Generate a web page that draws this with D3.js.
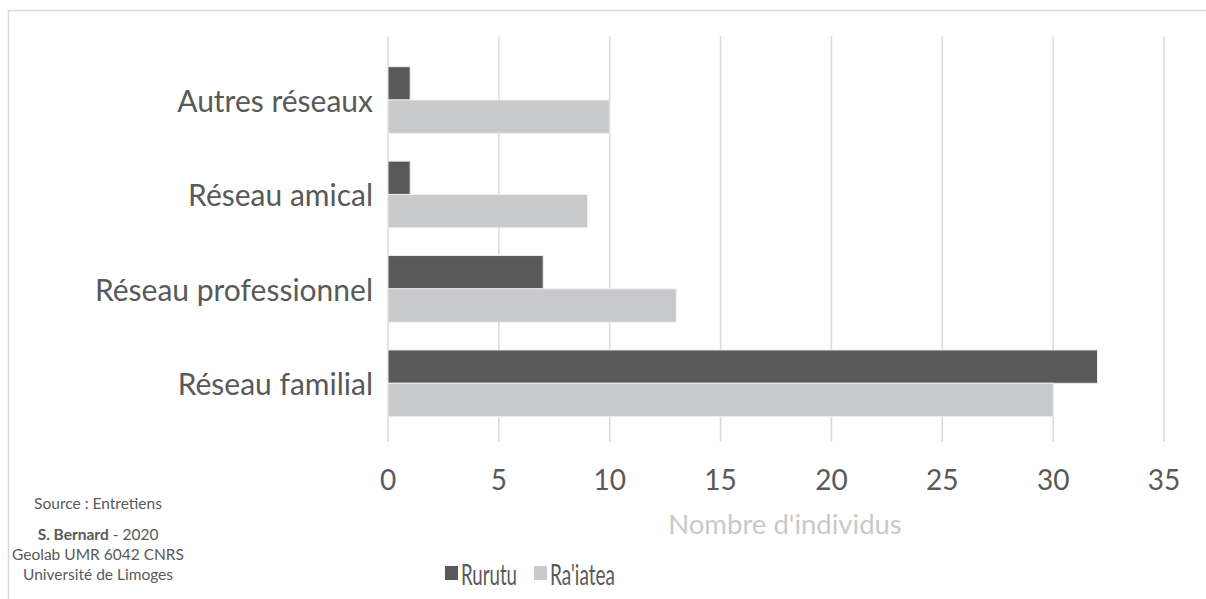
<!DOCTYPE html>
<html><head><meta charset="utf-8">
<script src="https://cdn.jsdelivr.net/npm/d3@7"></script>
<style>
html,body{margin:0;padding:0;background:#fff;}
svg{display:block;font-family:Lato, "Open Sans", sans-serif;}
</style></head>
<body>
<svg id="chart" width="1206" height="599"></svg>
<script>
const categories = ["Autres réseaux", "Réseau amical", "Réseau professionnel", "Réseau familial"];
const seriesNames = ["Rurutu", "Ra'iatea"];
const rurutu = [1, 1, 7, 32];
const raiatea = [10, 9, 13, 30];
const xTicks = [0, 5, 10, 15, 20, 25, 30, 35];
const axisTitle = "Nombre d'individus";
const colors = ["#595959", "#c8c9cb"];

const svg = d3.select("#chart");
// frame
svg.append("rect").attr("x", 8.5).attr("y", 10.5).attr("width", 1300).attr("height", 700)
  .attr("fill", "none").attr("stroke", "#d9d9d9").attr("stroke-width", 1.5);

const x = d3.scaleLinear().domain([0, 35]).range([388, 1164]);
const y = d3.scaleBand().domain(categories).range([52.8, 430.5]).paddingInner(0.294).paddingOuter(0.147);
const ySub = d3.scaleBand().domain(seriesNames).range([0, y.bandwidth()]);

// gridlines
svg.append("g").selectAll("line").data(xTicks).join("line")
  .attr("x1", d => x(d)).attr("x2", d => x(d)).attr("y1", 36.5).attr("y2", 442)
  .attr("stroke", "#d9d9d9").attr("stroke-width", 1.5);

const rows = categories.map((c, i) => ({cat: c, vals: [rurutu[i], raiatea[i]]}));
const g = svg.append("g");
rows.forEach(r => {
  r.vals.forEach((v, j) => {
    g.append("rect")
      .attr("x", x(0)).attr("y", y(r.cat) + ySub(seriesNames[j]))
      .attr("width", x(v) - x(0)).attr("height", ySub.bandwidth())
      .attr("fill", colors[j]).attr("stroke", "#eeeeee").attr("stroke-width", 1);
  });
});

// category labels
svg.append("g").selectAll("text").data(categories).join("text")
  .attr("x", 373).attr("y", d => y(d) + y.bandwidth() / 2)
  .attr("text-anchor", "end").attr("dominant-baseline", "central")
  .attr("font-size", 30).attr("fill", "#595959").text(d => d);

// x tick labels
svg.append("g").selectAll("text").data(xTicks).join("text")
  .attr("x", d => x(d)).attr("y", 479)
  .attr("text-anchor", "middle").attr("dominant-baseline", "central")
  .attr("font-size", 28).attr("fill", "#595959").text(d => d);

// axis title
svg.append("text").attr("x", 785).attr("y", 523)
  .attr("text-anchor", "middle").attr("dominant-baseline", "central")
  .attr("font-size", 27.5).attr("fill", "#c9c9c9").text(axisTitle);

// legend
const legendX = [445, 534];
const legendW = [56, 65];
seriesNames.forEach((s, j) => {
  svg.append("rect").attr("x", legendX[j]).attr("y", 566).attr("width", 13).attr("height", 14).attr("fill", colors[j]);
  svg.append("text").attr("x", legendX[j] + 16).attr("y", 574)
    .attr("dominant-baseline", "central").attr("font-size", 28).attr("fill", "#595959")
    .attr("textLength", legendW[j]).attr("lengthAdjust", "spacingAndGlyphs").text(s);
});

// footer
const foot = svg.append("g").attr("font-size", 15.5).attr("fill", "#595959").attr("text-anchor", "middle");
foot.append("text").attr("x", 98).attr("y", 503).attr("dominant-baseline", "central").text("Source : Entretiens");
const t2 = foot.append("text").attr("x", 98).attr("y", 534).attr("dominant-baseline", "central");
t2.append("tspan").attr("font-weight", "bold").text("S. Bernard");
t2.append("tspan").text(" - 2020");
foot.append("text").attr("x", 98).attr("y", 554).attr("dominant-baseline", "central").text("Geolab UMR 6042 CNRS");
foot.append("text").attr("x", 98).attr("y", 574).attr("dominant-baseline", "central").text("Université de Limoges");
</script>
</body></html>
